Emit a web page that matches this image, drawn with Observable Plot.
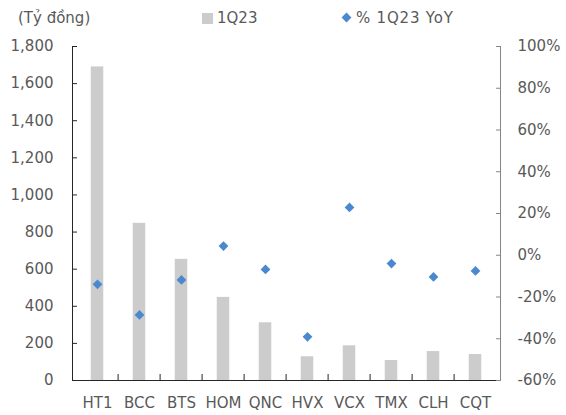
<!DOCTYPE html>
<html>
<head>
<meta charset="utf-8">
<script src="https://cdn.jsdelivr.net/npm/d3@7"></script>
<script src="https://cdn.jsdelivr.net/npm/@observablehq/plot@0.6"></script>
<style>
  body { margin: 0; background: #fff; }
  #chart { position: relative; width: 566px; height: 415px; font-family: "DejaVu Sans", sans-serif; font-size: 15px; color: #595959; }
  #chart svg { position: absolute; left: 0; top: 0; }
  .lbl { position: absolute; top: 8px; line-height: 20px; white-space: nowrap; }
  .sq { display: inline-block; width: 11px; height: 11px; background: #cccccc; margin-right: 4px; vertical-align: -1px; }
  .dm { display: inline-block; width: 7px; height: 7px; background: #4a89cf; transform: rotate(45deg); margin-right: 6px; margin-left: 2px; vertical-align: 2px; }
</style>
</head>
<body>
<div id="chart">
  <div class="lbl" style="left:18px">(Tỷ đồng)</div>
  <div class="lbl" style="left:202px"><span class="sq"></span>1Q23</div>
  <div class="lbl" style="left:341px; letter-spacing:0.8px"><span class="dm"></span>% 1Q23 YoY</div>
</div>
<script>
// Q1/2023 revenue (billion VND) and year-over-year change (%) by ticker
const categories = ["HT1", "BCC", "BTS", "HOM", "QNC", "HVX", "VCX", "TMX", "CLH", "CQT"];
const revenue = [1690, 847, 653, 448, 311, 128, 187, 108, 156, 140];
const yoy = [-13.9, -28.6, -11.8, 4.4, -6.8, -39.1, 22.9, -4.0, -10.4, -7.5];
const leftTicks = [0, 200, 400, 600, 800, 1000, 1200, 1400, 1600, 1800];
const rightTicks = [-60, -40, -20, 0, 20, 40, 60, 80, 100];

const rows = categories.map((c, i) => ({ticker: c, revenue: revenue[i], yoy: yoy[i]}));

const W = 566, H = 415;
const M = {left: 72, right: 66, top: 46, bottom: 35};
const band = (W - M.left - M.right) / categories.length;
const barW = 13.3;
const inset = (band - barW) / 2;

const common = {
  width: W, height: H,
  marginLeft: M.left, marginRight: M.right, marginTop: M.top, marginBottom: M.bottom,
  x: {type: "band", domain: categories, padding: 0, axis: null, label: null},
  style: {fontFamily: "DejaVu Sans, sans-serif", fontSize: "15px", color: "#595959", background: "transparent", overflow: "visible"}
};

// Bars, left axis and category axis
const bars = Plot.plot({
  ...common,
  y: {domain: [0, 1800], axis: null, label: null},
  marks: [
    Plot.barY(rows, {x: "ticker", y: "revenue", fill: "#cccccc", insetLeft: inset, insetRight: inset}),
    Plot.axisY({ticks: leftTicks, tickFormat: d3.format(","), tickSize: -5, tickPadding: 24, stroke: "#262626", fill: "#595959", label: null}),
    // ticks between categories, shifted half a band to the left
    Plot.axisX({ticks: categories.slice(1), tickSize: -6, tickFormat: () => "", dx: -band / 2, stroke: "#262626", label: null}),
    Plot.axisX({tickSize: 0, tickPadding: 17, fill: "#595959", label: null}),
    Plot.frame({anchor: "left", stroke: "#262626"}),
    Plot.frame({anchor: "bottom", stroke: "#262626"})
  ]
});

// YoY diamonds and right axis
const dots = Plot.plot({
  ...common,
  y: {domain: [-60, 100], axis: null, label: null},
  marks: [
    Plot.frame({anchor: "right", stroke: "#868686"}),
    Plot.axisY({anchor: "right", ticks: rightTicks, tickFormat: d => d + "%", tickSize: -5, tickPadding: 22, stroke: "#868686", fill: "#595959", label: null}),
    Plot.dot(rows, {x: "ticker", y: "yoy", symbol: "diamond2", r: 4.4, fill: "#4a89cf", stroke: "none"})
  ]
});

const chart = document.getElementById("chart");
chart.prepend(dots);
chart.prepend(bars);
</script>
</body>
</html>
